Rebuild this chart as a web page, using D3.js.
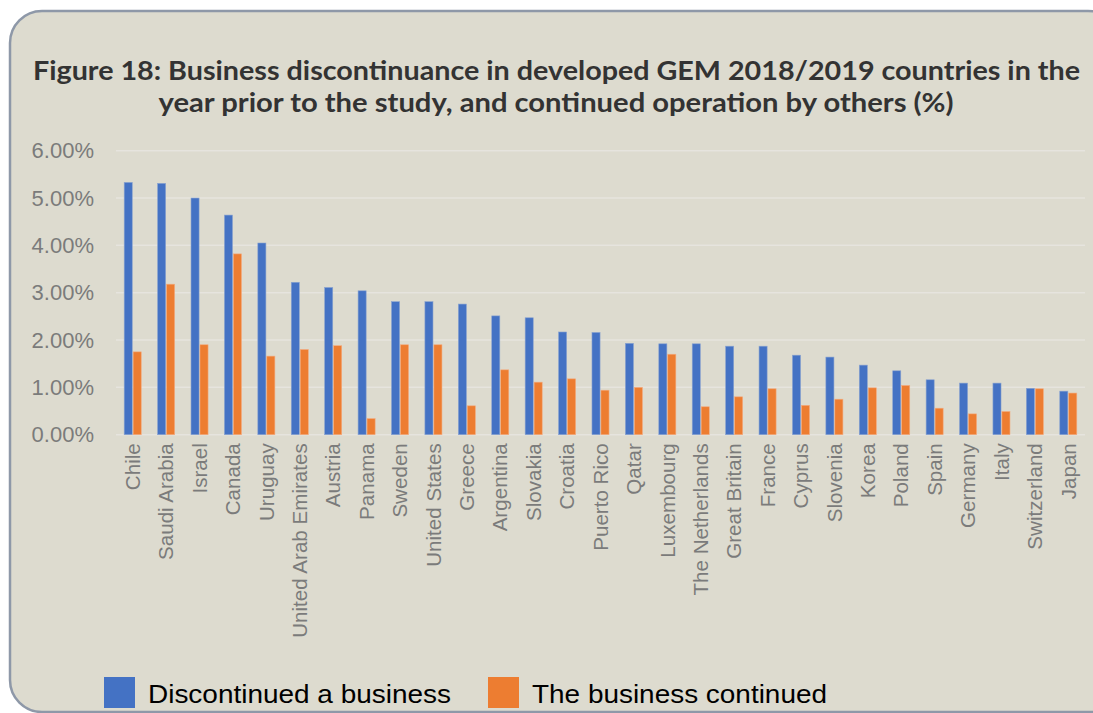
<!DOCTYPE html>
<html>
<head>
<meta charset="utf-8">
<script src="https://cdn.jsdelivr.net/npm/d3@7"></script>
<style>
  body { margin: 0; background: #fff; }
  svg { display: block; }
</style>
</head>
<body>
<div class="container"></div>
<script>
const countries = ['Chile', 'Saudi Arabia', 'Israel', 'Canada', 'Uruguay', 'United Arab Emirates',
  'Austria', 'Panama', 'Sweden', 'United States', 'Greece', 'Argentina', 'Slovakia', 'Croatia',
  'Puerto Rico', 'Qatar', 'Luxembourg', 'The Netherlands', 'Great Britain', 'France', 'Cyprus',
  'Slovenia', 'Korea', 'Poland', 'Spain', 'Germany', 'Italy', 'Switzerland', 'Japan'];
const discontinued = [5.33, 5.31, 5.00, 4.64, 4.05, 3.22, 3.11, 3.04, 2.81, 2.81, 2.76, 2.51, 2.47,
  2.17, 2.16, 1.93, 1.92, 1.92, 1.87, 1.87, 1.68, 1.64, 1.47, 1.35, 1.16, 1.09, 1.09, 0.98, 0.92];
const continued = [1.75, 3.18, 1.90, 3.82, 1.66, 1.80, 1.88, 0.34, 1.90, 1.90, 0.61, 1.37, 1.11,
  1.18, 0.94, 1.00, 1.70, 0.59, 0.80, 0.97, 0.62, 0.75, 0.99, 1.04, 0.56, 0.44, 0.49, 0.97, 0.88];
const seriesNames = ['Discontinued a business', 'The business continued'];
const yTicks = [0, 1, 2, 3, 4, 5, 6];
const titleLines = [
  'Figure 18: Business discontinuance in developed GEM 2018/2019 countries in the',
  'year prior to the study, and continued operation by others (%)'
];

const width = 1093;
const height = 713;
const colors = ['#4472c4', '#ed7d31'];

const plot = { left: 116, right: 1085, top: 150.7, bottom: 434.7 };

const svg = d3.select('.container')
  .append('svg')
  .attr('width', width)
  .attr('height', height);

// panel
svg.append('rect')
  .attr('x', 10).attr('y', 11)
  .attr('width', 1110).attr('height', 701)
  .attr('rx', 32).attr('ry', 32)
  .attr('fill', '#dddbcf')
  .attr('stroke', '#8e98a8')
  .attr('stroke-width', 2.5);

// title
svg.append('g')
  .selectAll('text')
  .data(titleLines)
  .enter()
  .append('text')
  .attr('x', (d, i) => i === 0 ? 33 : 556)
  .attr('y', (d, i) => 80 + i * 32)
  .attr('text-anchor', (d, i) => i === 0 ? 'start' : 'middle')
  .attr('textLength', (d, i) => i === 0 ? 1047 : 795)
  .attr('lengthAdjust', 'spacingAndGlyphs')
  .attr('font-family', 'Lato, "Open Sans", sans-serif')
  .attr('font-weight', 'bold')
  .attr('font-size', 27)
  .attr('fill', '#333333')
  .text(d => d);

const x0 = d3.scaleBand()
  .domain(countries)
  .range([plot.left, plot.right])
  .paddingInner(0.49)
  .paddingOuter(0.245);

const x1 = d3.scaleBand()
  .domain([0, 1])
  .range([0, x0.bandwidth()])
  .paddingInner(0.1);

const y = d3.scaleLinear()
  .domain([0, 6])
  .range([plot.bottom, plot.top]);

// gridlines
svg.append('g')
  .selectAll('line')
  .data(yTicks)
  .enter()
  .append('line')
  .attr('x1', plot.left).attr('x2', plot.right)
  .attr('y1', d => y(d)).attr('y2', d => y(d))
  .attr('stroke', '#e6e4de')
  .attr('stroke-width', 1.5);

// y axis
const yAxis = d3.axisLeft(y)
  .tickValues(yTicks)
  .tickFormat(d => d.toFixed(2) + '%')
  .tickSize(0)
  .tickPadding(22);

const gy = svg.append('g')
  .attr('transform', `translate(${plot.left}, 0)`)
  .call(yAxis);
gy.select('.domain').remove();
gy.selectAll('text')
  .attr('font-family', 'Liberation Sans, Arial, sans-serif')
  .attr('font-size', 22)
  .attr('fill', '#7b7b7b');

// bars
const groups = svg.append('g')
  .selectAll('g')
  .data(countries.map((c, i) => ({ c, vals: [discontinued[i], continued[i]] })))
  .enter()
  .append('g')
  .attr('transform', d => `translate(${x0(d.c)}, 0)`);

groups.selectAll('rect')
  .data(d => d.vals)
  .enter()
  .append('rect')
  .attr('x', (d, i) => x1(i))
  .attr('y', d => y(d))
  .attr('width', x1.bandwidth())
  .attr('height', d => y(0) - y(d))
  .attr('fill', (d, i) => colors[i])
  .attr('stroke', (d, i) => i === 0 ? '#8aa3d0' : '#f3ab7f')
  .attr('stroke-width', 0.6);

// x axis labels
const xAxis = d3.axisBottom(x0).tickSize(0).tickPadding(0);
const gx = svg.append('g')
  .attr('transform', `translate(0, ${plot.bottom})`)
  .call(xAxis);
gx.select('.domain').remove();
gx.selectAll('text')
  .attr('font-family', 'Liberation Sans, Arial, sans-serif')
  .attr('font-size', 20.6)
  .attr('fill', '#7b7b7b')
  .attr('text-anchor', 'end')
  .attr('transform', 'translate(0, 8.5) rotate(-90)')
  .attr('x', 0)
  .attr('y', 0)
  .attr('dy', '0.35em');

// legend
const legend = svg.append('g')
  .selectAll('g')
  .data(seriesNames)
  .enter()
  .append('g')
  .attr('transform', (d, i) => `translate(${i === 0 ? 104 : 488}, 677)`);

legend.append('rect')
  .attr('width', 31)
  .attr('height', 31)
  .attr('fill', (d, i) => colors[i]);

legend.append('text')
  .attr('x', 44)
  .attr('y', 26)
  .attr('textLength', (d, i) => i === 0 ? 303 : 295)
  .attr('lengthAdjust', 'spacingAndGlyphs')
  .attr('font-family', 'Liberation Sans, Arial, sans-serif')
  .attr('font-size', 26)
  .attr('fill', '#000')
  .text(d => d);
</script>
</body>
</html>
